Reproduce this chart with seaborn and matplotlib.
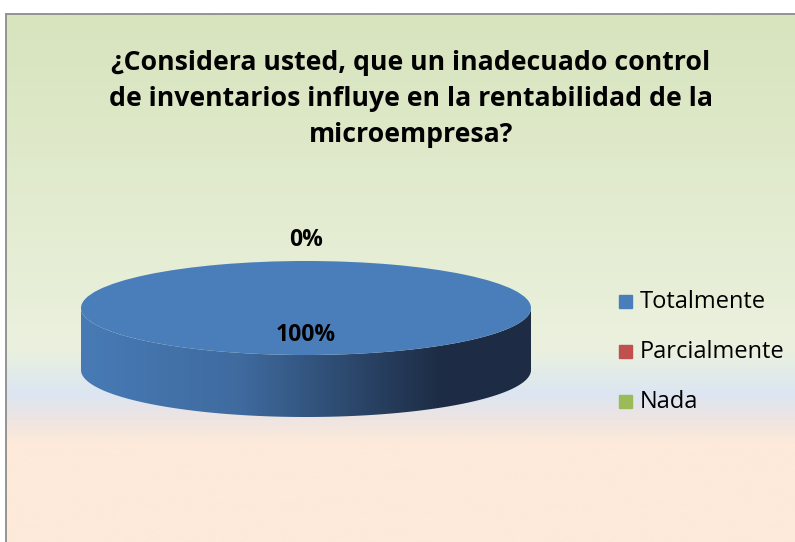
import numpy as np
import matplotlib
matplotlib.use("Agg")
import matplotlib.pyplot as plt
import seaborn as sns
from matplotlib.colors import LinearSegmentedColormap, to_rgb
from matplotlib.patches import Polygon, Rectangle

# ---- data ----
categories = ["Totalmente", "Parcialmente", "Nada"]
values = [100, 0, 0]
colors = ["#4A7EBB", "#C0504D", "#9BBB59"]
title = "¿Considera usted, que un inadecuado control\nde inventarios influye en la rentabilidad de la\nmicroempresa?"

sns.set_theme(style="white")
plt.rcParams["font.family"] = ["Open Sans", "DejaVu Sans"]

W, H = 795, 542
fig = plt.figure(figsize=(W / 100, H / 100), dpi=100)

# ---- background with gradient and frame ----
bg = fig.add_axes([0, 0, 1, 1])
bg.set_xlim(0, W)
bg.set_ylim(H, 0)
bg.axis("off")
bg.add_patch(Rectangle((0, 0), W, H, color="white", zorder=0))
stops = [(0.0, "#D7E4BD"), ((348 - 14) / (H - 14), "#EBF1DE"),
         ((392 - 14) / (H - 14), "#DCE6F2"), ((415 - 14) / (H - 14), "#ECE4E4"),
         ((442 - 14) / (H - 14), "#FDEADA"), (1.0, "#FDEADA")]
cmap_bg = LinearSegmentedColormap.from_list("bg", stops)
grad = np.linspace(0, 1, 512).reshape(-1, 1)
bg.imshow(grad, cmap=cmap_bg, extent=(6, W + 2, H + 2, 14), aspect="auto", zorder=1)
bg.plot([6, 6], [14, H + 2], color="#8C8C8C", lw=1.3, zorder=2)
bg.plot([6, W + 2], [14, 14], color="#8C8C8C", lw=1.3, zorder=2)
bg.text(411, 99, title, ha="center", va="center", fontsize=19.2, fontweight="bold",
        color="black", linespacing=1.5, zorder=3)

# legend
for i, (cat, col) in enumerate(zip(categories, colors)):
    y = 302 + i * 50
    bg.add_patch(Rectangle((619, y - 7), 13, 13, color=col, zorder=3))
    bg.text(640, y, cat, ha="left", va="center", fontsize=17, color="black", zorder=3)

# ---- 3D pie ----
depth = 62 / 47.0
cx_px0, cx_px1 = 81, 531
top_px, bot_px = 261, 417
ax = fig.add_axes([cx_px0 / W, 1 - bot_px / H, (cx_px1 - cx_px0) / W, (bot_px - top_px) / H])
ax.patch.set_alpha(0)

fracs = np.array(values, dtype=float) / np.sum(values)
wedges, _ = ax.pie(values, colors=colors, startangle=90, counterclock=False,
                   radius=1.0, wedgeprops=dict(linewidth=0))
ax.set_aspect("auto")
ax.set_xlim(-1, 1)
ax.set_ylim(-1 - depth, 1)
ax.axis("off")
for w in wedges:
    w.set_zorder(5)
    w.set_clip_on(False)

# side walls (front half) with horizontal shading
start = 90.0
for frac, col in zip(fracs, colors):
    if frac <= 0:
        continue
    a0, a1 = start - 360 * frac, start
    start = a0
    lo = max(a0 % 360 if a1 - a0 < 360 else 180, 180)
    hi = 360
    t = np.radians(np.linspace(lo, hi, 200))
    xs = np.cos(t)
    ys = np.sin(t)
    pts = np.concatenate([np.column_stack([xs, ys]),
                          np.column_stack([xs[::-1], ys[::-1] - depth])])
    poly = Polygon(pts, closed=True, facecolor="none", edgecolor="none")
    ax.add_patch(poly)
    base = np.array(to_rgb(col))
    dark = np.array(to_rgb("#1D2C44"))
    cm = LinearSegmentedColormap.from_list("side", [(0, base * 0.97), (0.35, base * 0.85),
                                                    (0.8, dark), (1.0, dark)])
    img = ax.imshow(np.linspace(0, 1, 256).reshape(1, -1), cmap=cm,
                    extent=(-1, 1, -1 - depth, 1), aspect="auto", zorder=3)
    img.set_clip_path(poly)

# labels
start = 90.0
placed = set()
for frac in fracs:
    mid = np.radians(start - 180 * frac)
    start -= 360 * frac
    r = 0.57 if frac > 0 else 1.45
    x, y = r * np.cos(mid), r * np.sin(mid)
    key = (round(x, 3), round(y, 3))
    if key in placed:
        continue
    placed.add(key)
    ax.text(x, y, f"{frac * 100:.0f}%", ha="center", va="center",
            fontsize=16.5, fontweight="bold", color="black", zorder=6, clip_on=False)

fig.savefig("out.png", dpi=100)
